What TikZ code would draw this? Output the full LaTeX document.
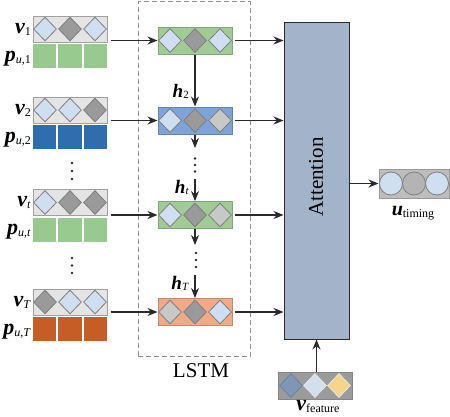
\documentclass[tikz,border=0pt]{standalone}
\usepackage{fontspec}
\setmainfont{Liberation Serif}
\usetikzlibrary{shapes.geometric,arrows.meta,fit,calc}
\definecolor{rowfill}{HTML}{E4E4E4}
\definecolor{rowline}{HTML}{A0A0A0}
\definecolor{dlblue}{HTML}{D0DEF1}
\definecolor{dgray}{HTML}{9A9A9A}
\definecolor{dlgray}{HTML}{C8C8C8}
\definecolor{dialine}{HTML}{7F7F7F}
\definecolor{cgreen}{HTML}{A0CB94}
\definecolor{cgreenl}{HTML}{7FA877}
\definecolor{cblue}{HTML}{7FA2D9}
\definecolor{cbluel}{HTML}{6482B4}
\definecolor{csalmon}{HTML}{F1A987}
\definecolor{csalmonl}{HTML}{C48A70}
\definecolor{pgreen}{HTML}{98C98E}
\definecolor{pblue}{HTML}{2F6DAE}
\definecolor{porange}{HTML}{C65C26}
\definecolor{attfill}{HTML}{A3B3CA}
\definecolor{arrcol}{HTML}{2A2A2A}
\definecolor{utfill}{HTML}{BDBDBD}
\definecolor{vffill}{HTML}{9B9B9B}
\definecolor{fsteel}{HTML}{7F96B6}
\definecolor{fblue}{HTML}{D3DFEF}
\definecolor{fyellow}{HTML}{F5D48B}
\newcommand{\blab}[3][22]{{\fontsize{#1}{#1}\selectfont\bfseries\itshape #2}\raisebox{-2pt}{\fontsize{12}{12}\selectfont #3}}
\newcommand{\hlab}[2]{{\fontsize{19}{19}\selectfont\bfseries\itshape #1}\raisebox{-1.5pt}{\fontsize{11}{11}\selectfont #2}}
\tikzset{
  vrow/.style={rectangle,draw=rowline,fill=rowfill,line width=1pt,minimum width=74pt,minimum height=26pt,inner sep=0pt},
  cellbox/.style={rectangle,line width=1pt,minimum width=74pt,minimum height=27pt,inner sep=0pt},
  dia/.style={diamond,draw=dialine,line width=0.8pt,minimum width=23pt,minimum height=24pt,inner sep=0pt},
  sqbox/.style={rectangle,minimum width=23.3pt,minimum height=24pt,inner sep=0pt},
  arr/.style={draw=arrcol,line width=1.1pt,-{Stealth[length=10pt,width=8pt]}},
  dotn/.style={circle,fill=arrcol,inner sep=0pt,minimum size=2.6pt},
  lab/.style={anchor=base east,inner sep=0pt},
}
% #1 name, #2 y centre of v row, #3-#5 diamond colours, #6 p colour, #7 subscript of v, #8 subscript of p
\newcommand{\inrow}[8]{%
  \node[vrow] (#1v) at (70,#2) {};
  \node[dia,fill=#3] (#1a) at (45,#2) {};
  \node[dia,fill=#4] (#1b) at (70,#2) {};
  \node[dia,fill=#5] (#1c) at (95,#2) {};
  \node[sqbox,fill=#6] (#1p1) at (44.67,{#2+27}) {};
  \node[sqbox,fill=#6] (#1p2) at (70,{#2+27}) {};
  \node[sqbox,fill=#6] (#1p3) at (95.33,{#2+27}) {};
  \node[fit=(#1v)(#1p1)(#1p3),inner sep=0pt] (#1g) {};
  \node[lab] (#1lv) at (31,{#2+4}) {\blab{v}{#7}};
  \node[lab] (#1lp) at (31,{#2+32}) {\blab{p}{#8}};
}
% #1 name, #2 y centre, #3 fill, #4 line, #5-#7 diamond colours
\newcommand{\lcell}[7]{%
  \node[cellbox,fill=#3,draw=#4] (#1) at (195,#2) {};
  \node[dia,fill=#5] (#1a) at (170,#2) {};
  \node[dia,fill=#6] (#1b) at (195,#2) {};
  \node[dia,fill=#7] (#1c) at (220,#2) {};
}
\begin{document}
\begin{tikzpicture}[x=1pt,y=-1pt]
\useasboundingbox (0,0) rectangle (450,416);
% LSTM dashed frame
\node[rectangle,draw=rowline!90!black,dash pattern=on 5pt off 3pt,line width=1pt,minimum width=112pt,minimum height=355pt,inner sep=0pt] (lstm) at (194,179) {};
\node[anchor=base,inner sep=0pt] (lstmlab) at (201,377) {\fontsize{21}{21}\selectfont LSTM};
% input rows
\inrow{r1}{29}{dlblue}{dgray}{dlblue}{pgreen}{1}{\textit{u},1}
\inrow{r2}{110}{dlblue}{dlblue}{dgray}{pblue}{2}{\textit{u},2}
\inrow{rt}{202.5}{dlblue}{dgray}{dgray}{pgreen}{\textit{t}}{\textit{u},\textit{t}}
\inrow{rT}{302}{dgray}{dlblue}{dlblue}{porange}{\textit{T}}{\textit{u},\textit{T}}
% left dots
\node[dotn] (ld1) at (72,163) {};
\node[dotn] (ld2) at (72,171) {};
\node[dotn] (ld3) at (72,179) {};
\node[dotn] (ld4) at (72,258) {};
\node[dotn] (ld5) at (72,265.5) {};
\node[dotn] (ld6) at (72,273) {};
% LSTM cells
\lcell{c1}{40.5}{cgreen}{cgreenl}{dlblue}{dgray}{dlblue}
\lcell{c2}{120.5}{cblue}{cbluel}{dlblue}{dgray}{dlgray}
\lcell{ct}{215}{cgreen}{cgreenl}{dlblue}{dgray}{dlgray}
\lcell{cT}{312}{csalmon}{csalmonl}{dlgray}{dgray}{dlblue}
% input arrows
\foreach \r/\c in {r1/c1,r2/c2,rt/ct,rT/cT}{
  \draw[arr,shorten <=3pt] (\r g.east |- \c.west) -- (\c.west);
}
% vertical chain
\draw[arr] (c1.south) -- (c2.north);
\node[lab] (h2) at (189,97) {\hlab{h}{2}};
\coordinate (e1) at (195,148);
\draw[arr] (c2.south) -- (e1);
\node[dotn] (md1) at (195,158.5) {};
\node[dotn] (md2) at (195,165) {};
\node[dotn] (md3) at (195,171.5) {};
\coordinate (s1) at (195,179);
\draw[arr] (s1) -- (ct.north);
\node[lab] (ht) at (189,193) {\hlab{h}{\textit{t}}};
\coordinate (e2) at (195,245);
\draw[arr] (ct.south) -- (e2);
\node[dotn] (md4) at (196,253) {};
\node[dotn] (md5) at (196,260) {};
\node[dotn] (md6) at (196,267) {};
\coordinate (s2) at (195,275);
\draw[arr] (s2) -- (cT.north);
\node[lab] (hT) at (189,289) {\hlab{h}{\textit{T}}};
% attention
\node[rectangle,draw=arrcol,fill=attfill,line width=1pt,minimum width=65pt,minimum height=317pt,inner sep=0pt] (att) at (316.5,180.5) {};
\node[rotate=90,inner sep=0pt] (atttxt) at (316,177) {\fontsize{21}{21}\selectfont Attention};
\foreach \c in {c1,c2,ct,cT}{
  \draw[arr,shorten <=2pt] (\c.east) -- (att.west |- \c.east);
}
% u timing
\node[rectangle,draw=dialine!80,fill=utfill,line width=1pt,minimum width=70pt,minimum height=29pt,inner sep=0pt] (ut) at (414,183.5) {};
\node[circle,draw=dialine,fill=dlblue,line width=0.8pt,minimum size=23pt,inner sep=0pt] (ut1) at (391,183.5) {};
\node[circle,draw=dialine,fill=dlgray!90!black,line width=0.8pt,minimum size=23pt,inner sep=0pt] (ut2) at (414,183.5) {};
\node[circle,draw=dialine,fill=dlblue,line width=0.8pt,minimum size=23pt,inner sep=0pt] (ut3) at (437,183.5) {};
\draw[arr] (att.east |- ut.west) -- (ut.west);
\node[anchor=base,inner sep=0pt] (utlab) at (413,215) {\blab[20]{u}{timing}};
% v feature
\node[rectangle,draw=vffill!85!black,fill=vffill,line width=1pt,minimum width=74pt,minimum height=27pt,inner sep=0pt] (vf) at (315,385.5) {};
\node[dia,fill=fsteel,draw=fsteel!85!black] (vf1) at (291,385.5) {};
\node[dia,fill=fblue,draw=white!80!gray] (vf2) at (315,385.5) {};
\node[dia,fill=fyellow,draw=white!80!gray] (vf3) at (339,385.5) {};
\draw[arr] (vf.north -| att.south) -- (att.south);
\node[anchor=base,inner sep=0pt] (vflab) at (318,410) {\blab{v}{feature}};
\end{tikzpicture}
\end{document}
